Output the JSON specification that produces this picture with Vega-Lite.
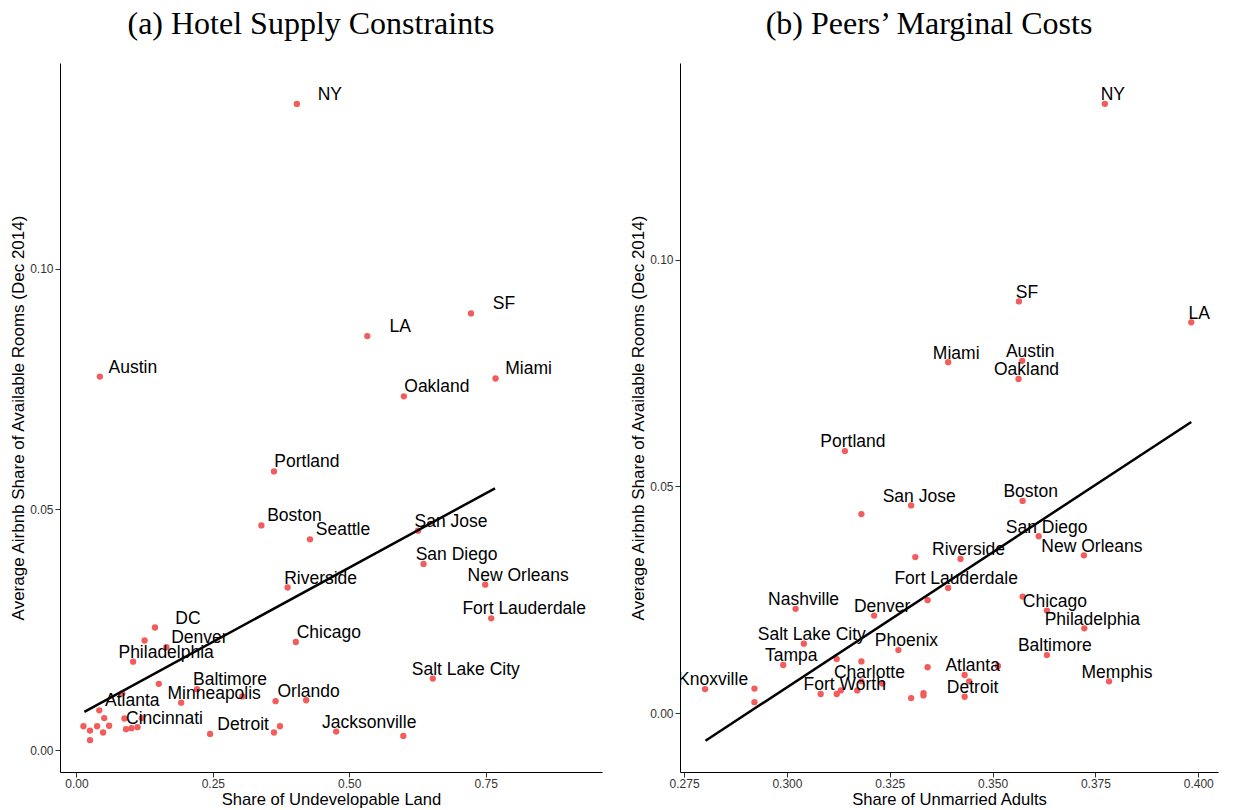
{
  "$schema": "https://vega.github.io/schema/vega-lite/v6.json",
  "background": "white",
  "padding": {"left": 9, "top": 8, "right": 10, "bottom": 0},
  "spacing": 27,
  "config": {
    "view": {"stroke": null},
    "font": "Liberation Sans",
    "axis": {
      "grid": false,
      "domainColor": "black",
      "domainWidth": 1,
      "tickColor": "#333333",
      "tickWidth": 1,
      "tickSize": 5,
      "labelFont": "Liberation Sans",
      "labelFontSize": 12,
      "labelColor": "#333333",
      "labelPadding": 2,
      "titleFont": "Liberation Sans",
      "titleFontSize": 17,
      "titleFontWeight": "normal",
      "titleColor": "black",
      "titlePadding": 2
    },
    "axisX": {"titlePadding": 2, "labelPadding": 1, "titleFontSize": 16.6},
    "title": {"font": "Liberation Serif", "fontSize": 32, "fontWeight": "normal", "color": "black", "frame": "group", "anchor": "middle", "dx": -20, "offset": 22}
  },
  "datasets": {
    "left": [
      {"city": "NY", "x": 0.404, "y": 0.1342},
      {"city": "SF", "x": 0.723, "y": 0.0907},
      {"city": "LA", "x": 0.533, "y": 0.0860},
      {"city": "Austin", "x": 0.043, "y": 0.0776},
      {"city": "Miami", "x": 0.768, "y": 0.0772},
      {"city": "Oakland", "x": 0.600, "y": 0.0735},
      {"city": "Portland", "x": 0.362, "y": 0.0579},
      {"city": "Boston", "x": 0.339, "y": 0.0467},
      {"city": "Seattle", "x": 0.428, "y": 0.0438},
      {"city": "San Jose", "x": 0.626, "y": 0.0456},
      {"city": "San Diego", "x": 0.636, "y": 0.0387},
      {"city": "Riverside", "x": 0.387, "y": 0.0338},
      {"city": "New Orleans", "x": 0.749, "y": 0.0344},
      {"city": "Fort Lauderdale", "x": 0.760, "y": 0.0274},
      {"city": "DC", "x": 0.144, "y": 0.0255},
      {"city": "Denver", "x": 0.165, "y": 0.0214},
      {"city": "Philadelphia", "x": 0.104, "y": 0.0184},
      {"city": "Chicago", "x": 0.402, "y": 0.0225},
      {"city": "Salt Lake City", "x": 0.653, "y": 0.0149},
      {"city": "Baltimore", "x": 0.221, "y": 0.0127},
      {"city": "Minneapolis", "x": 0.192, "y": 0.0099},
      {"city": "Orlando", "x": 0.365, "y": 0.0102},
      {"city": "Atlanta", "x": 0.042, "y": 0.0083},
      {"city": "Cincinnati", "x": 0.101, "y": 0.0046},
      {"city": "Detroit", "x": 0.245, "y": 0.0034},
      {"city": "Jacksonville", "x": 0.476, "y": 0.0039},
      {"city": "", "x": 0.125, "y": 0.0228},
      {"city": "", "x": 0.151, "y": 0.0138},
      {"city": "", "x": 0.304, "y": 0.0112},
      {"city": "", "x": 0.421, "y": 0.0104},
      {"city": "", "x": 0.084, "y": 0.0118},
      {"city": "", "x": 0.362, "y": 0.0037},
      {"city": "", "x": 0.373, "y": 0.0050},
      {"city": "", "x": 0.599, "y": 0.0030},
      {"city": "", "x": 0.013, "y": 0.0050},
      {"city": "", "x": 0.025, "y": 0.0041},
      {"city": "", "x": 0.025, "y": 0.0021},
      {"city": "", "x": 0.038, "y": 0.0050},
      {"city": "", "x": 0.051, "y": 0.0067},
      {"city": "", "x": 0.049, "y": 0.0037},
      {"city": "", "x": 0.060, "y": 0.0051},
      {"city": "", "x": 0.088, "y": 0.0066},
      {"city": "", "x": 0.091, "y": 0.0044},
      {"city": "", "x": 0.112, "y": 0.0048},
      {"city": "", "x": 0.120, "y": 0.0067}
    ],
    "leftfit": [
      {"x": 0.0146, "y": 0.0080},
      {"x": 0.767, "y": 0.0544}
    ],
    "right": [
      {"city": "NY", "x": 0.3773, "y": 0.1344},
      {"city": "SF", "x": 0.3564, "y": 0.0908},
      {"city": "LA", "x": 0.3983, "y": 0.0862},
      {"city": "Miami", "x": 0.3392, "y": 0.0774},
      {"city": "Austin", "x": 0.3572, "y": 0.0777},
      {"city": "Oakland", "x": 0.3563, "y": 0.0737},
      {"city": "Portland", "x": 0.3141, "y": 0.0578},
      {"city": "San Jose", "x": 0.3302, "y": 0.0458},
      {"city": "Boston", "x": 0.3573, "y": 0.0468},
      {"city": "San Diego", "x": 0.3612, "y": 0.0390},
      {"city": "New Orleans", "x": 0.3722, "y": 0.0348},
      {"city": "Riverside", "x": 0.3422, "y": 0.0340},
      {"city": "Fort Lauderdale", "x": 0.3392, "y": 0.0276},
      {"city": "Nashville", "x": 0.3021, "y": 0.0230},
      {"city": "Denver", "x": 0.3212, "y": 0.0215},
      {"city": "Chicago", "x": 0.3632, "y": 0.0226},
      {"city": "Philadelphia", "x": 0.3723, "y": 0.0187},
      {"city": "Salt Lake City", "x": 0.3041, "y": 0.0153},
      {"city": "Phoenix", "x": 0.3271, "y": 0.0139},
      {"city": "Baltimore", "x": 0.3632, "y": 0.0128},
      {"city": "Tampa", "x": 0.2991, "y": 0.0106},
      {"city": "Atlanta", "x": 0.3432, "y": 0.0084},
      {"city": "Charlotte", "x": 0.3181, "y": 0.0070},
      {"city": "Memphis", "x": 0.3783, "y": 0.0070},
      {"city": "Knoxville", "x": 0.2801, "y": 0.0053},
      {"city": "Fort Worth", "x": 0.3121, "y": 0.0042},
      {"city": "Detroit", "x": 0.3432, "y": 0.0036},
      {"city": "", "x": 0.3181, "y": 0.0439},
      {"city": "", "x": 0.3312, "y": 0.0344},
      {"city": "", "x": 0.3342, "y": 0.0249},
      {"city": "", "x": 0.3573, "y": 0.0257},
      {"city": "", "x": 0.2921, "y": 0.0054},
      {"city": "", "x": 0.2921, "y": 0.0024},
      {"city": "", "x": 0.3121, "y": 0.0119},
      {"city": "", "x": 0.3181, "y": 0.0114},
      {"city": "", "x": 0.3342, "y": 0.0101},
      {"city": "", "x": 0.3232, "y": 0.0065},
      {"city": "", "x": 0.3082, "y": 0.0042},
      {"city": "", "x": 0.3131, "y": 0.0050},
      {"city": "", "x": 0.3171, "y": 0.0050},
      {"city": "", "x": 0.3302, "y": 0.0033},
      {"city": "", "x": 0.3332, "y": 0.0044},
      {"city": "", "x": 0.3332, "y": 0.0039},
      {"city": "", "x": 0.3513, "y": 0.0104},
      {"city": "", "x": 0.3443, "y": 0.0070}
    ],
    "rightfit": [
      {"x": 0.2802, "y": -0.0061},
      {"x": 0.3983, "y": 0.0642}
    ]
  },
  "hconcat": [
    {
      "width": 542,
      "height": 709,
      "title": {"text": "(a) Hotel Supply Constraints"},
      "layer": [
        {
          "data": {"name": "left"},
          "mark": {"type": "circle", "size": 40, "color": "#F25C5C", "opacity": 1},
          "encoding": {
            "x": {"field": "x", "type": "quantitative", "scale": {"domain": [-0.030, 0.963], "nice": false, "zero": false}, "axis": {"title": "Share of Undevelopable Land", "values": [0, 0.25, 0.5, 0.75], "format": ".2f"}},
            "y": {"field": "y", "type": "quantitative", "scale": {"domain": [-0.0045, 0.1427], "nice": false, "zero": false}, "axis": {"title": "Average Airbnb Share of Available Rooms (Dec 2014)", "values": [0, 0.05, 0.1], "format": ".2f"}}
          }
        },
        {
          "data": {"name": "left"},
          "transform": [{"filter": "datum.city != ''"}],
          "mark": {"type": "text", "dx": 33, "dy": -9, "fontSize": 17.5, "color": "black", "align": "center", "baseline": "middle", "font": "Liberation Sans"},
          "encoding": {
            "x": {"field": "x", "type": "quantitative"},
            "y": {"field": "y", "type": "quantitative"},
            "text": {"field": "city"}
          }
        },
        {
          "data": {"name": "leftfit"},
          "mark": {"type": "line", "color": "black", "strokeWidth": 2.5},
          "encoding": {
            "x": {"field": "x", "type": "quantitative"},
            "y": {"field": "y", "type": "quantitative"}
          }
        }
      ]
    },
    {
      "width": 538,
      "height": 709,
      "title": {"text": "(b) Peers’ Marginal Costs"},
      "layer": [
        {
          "data": {"name": "right"},
          "mark": {"type": "circle", "size": 40, "color": "#F25C5C", "opacity": 1},
          "encoding": {
            "x": {"field": "x", "type": "quantitative", "scale": {"domain": [0.2740, 0.4048], "nice": false, "zero": false}, "axis": {"title": "Share of Unmarried Adults", "values": [0.275, 0.3, 0.325, 0.35, 0.375, 0.4], "format": ".3f"}},
            "y": {"field": "y", "type": "quantitative", "scale": {"domain": [-0.013, 0.1434], "nice": false, "zero": false}, "axis": {"title": "Average Airbnb Share of Available Rooms (Dec 2014)", "values": [0, 0.05, 0.1], "format": ".2f"}}
          }
        },
        {
          "data": {"name": "right"},
          "transform": [{"filter": "datum.city != ''"}],
          "mark": {"type": "text", "dx": 8, "dy": -8.6, "fontSize": 17.5, "color": "black", "align": "center", "baseline": "middle", "font": "Liberation Sans", "clip": true},
          "encoding": {
            "x": {"field": "x", "type": "quantitative"},
            "y": {"field": "y", "type": "quantitative"},
            "text": {"field": "city"}
          }
        },
        {
          "data": {"name": "rightfit"},
          "mark": {"type": "line", "color": "black", "strokeWidth": 2.5},
          "encoding": {
            "x": {"field": "x", "type": "quantitative"},
            "y": {"field": "y", "type": "quantitative"}
          }
        }
      ]
    }
  ]
}
